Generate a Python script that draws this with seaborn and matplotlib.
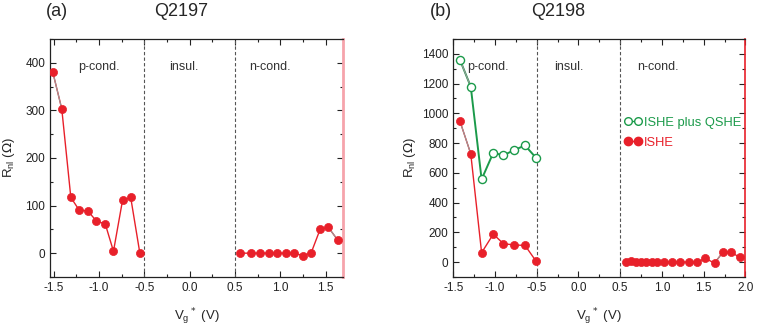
import matplotlib
matplotlib.use("Agg")
import matplotlib.pyplot as plt
from matplotlib.lines import Line2D
from matplotlib.ticker import MultipleLocator
import pandas as pd
import seaborn as sns

# panel (a) Q2197
a_p_vg = [-1.51, -1.41, -1.31, -1.22, -1.12, -1.03, -0.93, -0.84, -0.74, -0.65, -0.55]
a_p_r = [381, 303, 117, 91, 88, 68, 61, 4, 111, 117, 1]
a_n_vg = [0.55, 0.68, 0.77, 0.87, 0.96, 1.06, 1.15, 1.25, 1.34, 1.44, 1.53, 1.63]
a_n_r = [0, 0, 0, 0, 0, 0, 0, -5, 1, 51, 54, 28]

# panel (b) Q2198
b_qshe_vg = [-1.42, -1.29, -1.16, -1.02, -0.90, -0.77, -0.64, -0.51]
b_qshe_r = [1360, 1179, 556, 735, 717, 753, 784, 702]
b_p_vg = [-1.42, -1.29, -1.16, -1.02, -0.90, -0.77, -0.64, -0.51]
b_p_r = [948, 728, 63, 188, 124, 115, 112, 8]
b_n_vg = [0.57, 0.63, 0.69, 0.75, 0.81, 0.88, 0.94, 1.02, 1.12, 1.22, 1.32,
          1.42, 1.52, 1.63, 1.73, 1.83, 1.93]
b_n_r = [0, 7, 0, 0, 0, 0, 0, 0, 0, 0, 0, 0, 25, -7, 67, 67, 31]

regions = ["p-cond.", "insul.", "n-cond."]

RED = "#e8202a"
GREEN = "#1b9a4a"
GREY = "#9a9a9a"

sns.set_style("ticks")
plt.rcParams["font.family"] = ["Liberation Sans", "DejaVu Sans"]

fig = plt.figure(figsize=(7.63, 3.27), dpi=100)
ax1 = fig.add_axes([0.0655, 0.153, 0.384, 0.728])
ax2 = fig.add_axes([0.594, 0.153, 0.383, 0.728])


def draw_series(ax, x, y, color, grey_segs, filled=True, lw=1.0):
    df = pd.DataFrame({"x": x, "y": y})
    sns.lineplot(data=df, x="x", y="y", ax=ax, color=color, lw=lw,
                 sort=False, zorder=2)
    for i in grey_segs:
        sns.lineplot(data=df.iloc[i:i + 2], x="x", y="y", ax=ax, color=GREY,
                     lw=0.8, sort=False, zorder=2.5)
    if filled:
        sns.scatterplot(data=df, x="x", y="y", ax=ax, color=color, s=34,
                        edgecolor=color, linewidth=0.5, zorder=3)
    else:
        sns.scatterplot(data=df, x="x", y="y", ax=ax, facecolor="white",
                        edgecolor=color, s=34, linewidth=1.0, zorder=3)


def style_axes(ax, xlim, ylim, xmaj, ymaj, right_color, right_lw):
    ax.set_xlim(*xlim)
    ax.set_ylim(*ylim)
    ax.xaxis.set_major_locator(MultipleLocator(xmaj))
    ax.xaxis.set_minor_locator(MultipleLocator(xmaj / 2))
    ax.yaxis.set_major_locator(MultipleLocator(ymaj))
    ax.yaxis.set_minor_locator(MultipleLocator(ymaj / 2))
    ax.tick_params(which="both", direction="in", top=True, right=True,
                   labelsize=8.5, colors="#222222", width=0.8)
    ax.tick_params(which="major", length=4)
    ax.tick_params(which="minor", length=2.5)
    for s in ["left", "bottom", "top"]:
        ax.spines[s].set_linewidth(0.9)
        ax.spines[s].set_color("#222222")
    ax.spines["right"].set_color(right_color)
    ax.spines["right"].set_linewidth(right_lw)
    for v in (-0.5, 0.5):
        ax.axvline(v, color="#555555", ls=(0, (3, 2)), lw=0.8, zorder=1)
    ax.set_xlabel(r"V$_\mathregular{g}$$^*$ (V)", fontsize=9.5, labelpad=9)
    ax.set_ylabel(r"R$_\mathregular{nl}$ ($\Omega$)", fontsize=9.5)
    ax.xaxis.set_major_formatter(matplotlib.ticker.FormatStrFormatter("%.1f"))


# panel a
draw_series(ax1, a_p_vg, a_p_r, RED, [0])
draw_series(ax1, a_n_vg, a_n_r, RED, [10])
style_axes(ax1, (-1.54, 1.69), (-50, 450), 0.5, 100, "#f6a3ab", 2.0)
for xt, lab in zip([-1.0, -0.07, 0.89], regions):
    ax1.text(xt, 390, lab, ha="center", va="center", fontsize=9, color="#333333")
ax1.yaxis.labelpad = 6
fig.text(0.06, 0.95, "(a)", fontsize=13)
fig.text(0.238, 0.95, "Q2197", fontsize=13, ha="center")

# panel b
draw_series(ax2, b_qshe_vg, b_qshe_r, GREEN, [0], filled=False, lw=1.4)
draw_series(ax2, b_p_vg, b_p_r, RED, [0])
draw_series(ax2, b_n_vg, b_n_r, RED, [13])
style_axes(ax2, (-1.5, 2.0), (-100, 1500), 0.5, 200, RED, 1.2)
for xt, lab in zip([-1.08, -0.11, 0.95], regions):
    ax2.text(xt, 1310, lab, ha="center", va="center", fontsize=9, color="#333333")
ax2.yaxis.labelpad = 3
fig.text(0.563, 0.95, "(b)", fontsize=13)
fig.text(0.732, 0.95, "Q2198", fontsize=13, ha="center")

handles = [
    Line2D([], [], color=GREEN, marker="o", mfc="white", mec=GREEN, ms=5.5, lw=1.0),
    Line2D([], [], color=RED, marker="o", mfc=RED, mec=RED, ms=6, lw=1.0),
]
leg = ax2.legend(handles, ["ISHE plus QSHE", "ISHE"], loc="upper left",
                 bbox_to_anchor=(0.545, 0.722), frameon=False, numpoints=2,
                 handlelength=1.4, handletextpad=0.15, labelspacing=0.6,
                 fontsize=9.3, labelcolor="linecolor")

fig.savefig("out.png", dpi=100)
